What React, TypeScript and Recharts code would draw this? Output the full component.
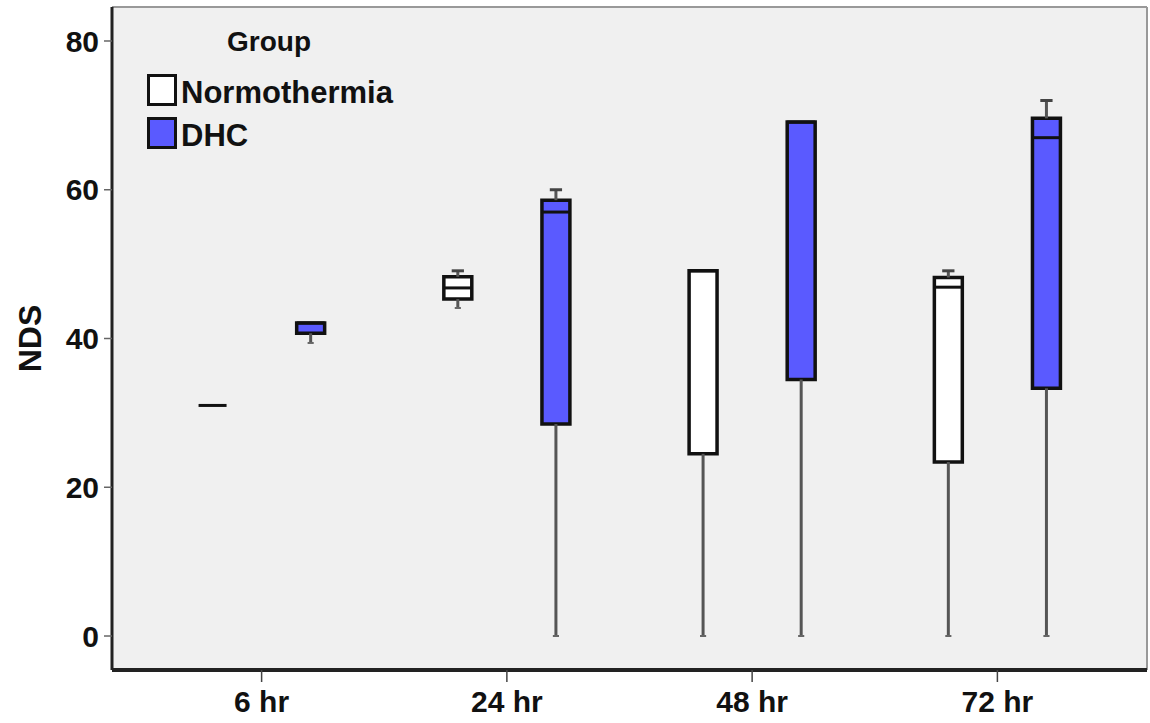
import React from 'react';
import {
  ComposedChart,
  XAxis,
  YAxis,
  CartesianGrid,
  ReferenceArea,
  ReferenceLine,
  Scatter,
} from 'recharts';

// ---- data ----
const categories = ['6 hr', '24 hr', '48 hr', '72 hr'];
const groups = ['Normothermia', 'DHC'];
const groupColors = ['#ffffff', '#5a5aff'];

const normMin = [31, 44.1, 0, 0];
const normQ1 = [31, 45.3, 24.5, 23.4];
const normMedian = [31, 46.8, 49.1, 46.9];
const normQ3 = [31, 48.3, 49.1, 48.2];
const normMax = [31, 49.1, 49.1, 49.1];

const dhcMin = [39.4, 0, 0, 0];
const dhcQ1 = [40.7, 28.5, 34.5, 33.3];
const dhcMedian = [42.1, 57.0, 69.1, 67.0];
const dhcQ3 = [42.1, 58.6, 69.1, 69.6];
const dhcMax = [42.1, 60.0, 69.1, 72.0];

const yTicks = [0, 20, 40, 60, 80];
const xTicks = categories.map((_, i) => i);

// ---- layout constants ----
const W = 1150;
const H = 723;
const X_DOMAIN: [number, number] = [-0.61, 3.61];
const Y_DOMAIN: [number, number] = [-4.57, 84.57];
const GROUP_OFFSET = [-0.2, 0.2];
const BOX_HALF = 0.057;
const CAP_HALF = 0.025;
const FONT = '"Liberation Sans", Arial, Helvetica, sans-serif';

const stats = [
  { min: normMin, q1: normQ1, med: normMedian, q3: normQ3, max: normMax },
  { min: dhcMin, q1: dhcQ1, med: dhcMedian, q3: dhcQ3, max: dhcMax },
];

const medianData = groups.map((g, gi) =>
  categories.map((c, i) => ({ x: i + GROUP_OFFSET[gi], y: stats[gi].med[i] }))
);

const MedianShape = (props: any) => {
  const { cx, cy } = props;
  if (cx == null || cy == null) return null;
  return <line x1={cx - 14} x2={cx + 14} y1={cy} y2={cy} stroke="#111" strokeWidth={3} />;
};

function renderBoxes() {
  const out: React.ReactNode[] = [];
  groups.forEach((g, gi) => {
    const s = stats[gi];
    categories.forEach((c, i) => {
      const cx = i + GROUP_OFFSET[gi];
      if (s.max[i] > s.q3[i]) {
        out.push(
          <ReferenceLine key={`wu-${gi}-${i}`} segment={[{ x: cx, y: s.q3[i] }, { x: cx, y: s.max[i] }]} stroke="#555" strokeWidth={3} />
        );
        out.push(
          <ReferenceLine key={`cu-${gi}-${i}`} segment={[{ x: cx - CAP_HALF, y: s.max[i] }, { x: cx + CAP_HALF, y: s.max[i] }]} stroke="#444" strokeWidth={3} />
        );
      }
      if (s.min[i] < s.q1[i]) {
        out.push(
          <ReferenceLine key={`wl-${gi}-${i}`} segment={[{ x: cx, y: s.q1[i] }, { x: cx, y: s.min[i] }]} stroke="#555" strokeWidth={3} />
        );
        out.push(
          <ReferenceLine key={`cl-${gi}-${i}`} segment={[{ x: cx - CAP_HALF * 0.5, y: s.min[i] }, { x: cx + CAP_HALF * 0.5, y: s.min[i] }]} stroke="#666" strokeWidth={2} />
        );
      }
      if (s.q3[i] > s.q1[i]) {
        out.push(
          <ReferenceArea
            key={`b-${gi}-${i}`}
            x1={cx - BOX_HALF}
            x2={cx + BOX_HALF}
            y1={s.q1[i]}
            y2={s.q3[i]}
            fill={groupColors[gi]}
            fillOpacity={1}
            stroke="#111"
            strokeWidth={3.5}
          />
        );
      }
    });
  });
  return out;
}

const NdsLabel = (props: any) => {
  const vb = props.viewBox || {};
  const cy = (vb.y ?? 7) + (vb.height ?? 663) / 2;
  const x = 30;
  return (
    <text
      x={x}
      y={cy}
      transform={`rotate(-90, ${x}, ${cy})`}
      textAnchor="middle"
      dominantBaseline="central"
      fontFamily={FONT}
      fontWeight={700}
      fontSize={32}
      fill="#111"
    >
      NDS
    </text>
  );
};

const Legend = () => (
  <div style={{ position: 'absolute', left: 0, top: 0, fontFamily: FONT, fontWeight: 700, color: '#111', pointerEvents: 'none' }}>
    <div style={{ position: 'absolute', left: 227, top: 26, fontSize: 28, lineHeight: '32px', whiteSpace: 'nowrap' }}>Group</div>
    {groups.map((g, gi) => (
      <div key={g} style={{ position: 'absolute', left: 147, top: 71 + gi * 43, display: 'flex', alignItems: 'center', whiteSpace: 'nowrap' }}>
        <div style={{ width: 24, height: 26, background: groupColors[gi], border: '3px solid #111' }} />
        <span style={{ fontSize: 31, lineHeight: '32px', marginLeft: 4, marginTop: 6 }}>{g}</span>
      </div>
    ))}
  </div>
);

export default function App() {
  return (
    <div style={{ position: 'absolute', left: 0, top: 0, width: W, height: H, background: '#fff' }}>
      <ComposedChart width={W} height={H} margin={{ top: 7, right: 3, bottom: 0, left: 0 }}>
        <CartesianGrid horizontal={false} vertical={false} fill="#f0f0f0" />
        <XAxis
          type="number"
          dataKey="x"
          domain={X_DOMAIN}
          ticks={xTicks}
          allowDataOverflow
          height={53}
          tickFormatter={(v: number) => categories[v] ?? ''}
          axisLine={{ stroke: '#222', strokeWidth: 4 }}
          tickLine={{ stroke: '#444', strokeWidth: 1.5 }}
          tickSize={12}
          tickMargin={9}
          tick={{ fontFamily: FONT, fontWeight: 700, fontSize: 30, fill: '#111' }}
        />
        <YAxis
          type="number"
          dataKey="y"
          domain={Y_DOMAIN}
          ticks={yTicks}
          allowDataOverflow
          width={112}
          axisLine={{ stroke: '#222', strokeWidth: 3 }}
          tickLine={{ stroke: '#666', strokeWidth: 1.5 }}
          tickSize={8}
          tickMargin={5}
          tick={{ fontFamily: FONT, fontWeight: 700, fontSize: 30, fill: '#111' }}
          label={<NdsLabel />}
        />
        <ReferenceLine y={Y_DOMAIN[1]} stroke="#999" strokeWidth={2} />
        <ReferenceLine x={X_DOMAIN[1]} stroke="#999" strokeWidth={2} />
        {renderBoxes()}
        {groups.map((g, gi) => (
          <Scatter
            key={g}
            name={g}
            data={medianData[gi]}
            dataKey="y"
            shape={<MedianShape />}
            isAnimationActive={false}
          />
        ))}
      </ComposedChart>
      <Legend />
    </div>
  );
}
